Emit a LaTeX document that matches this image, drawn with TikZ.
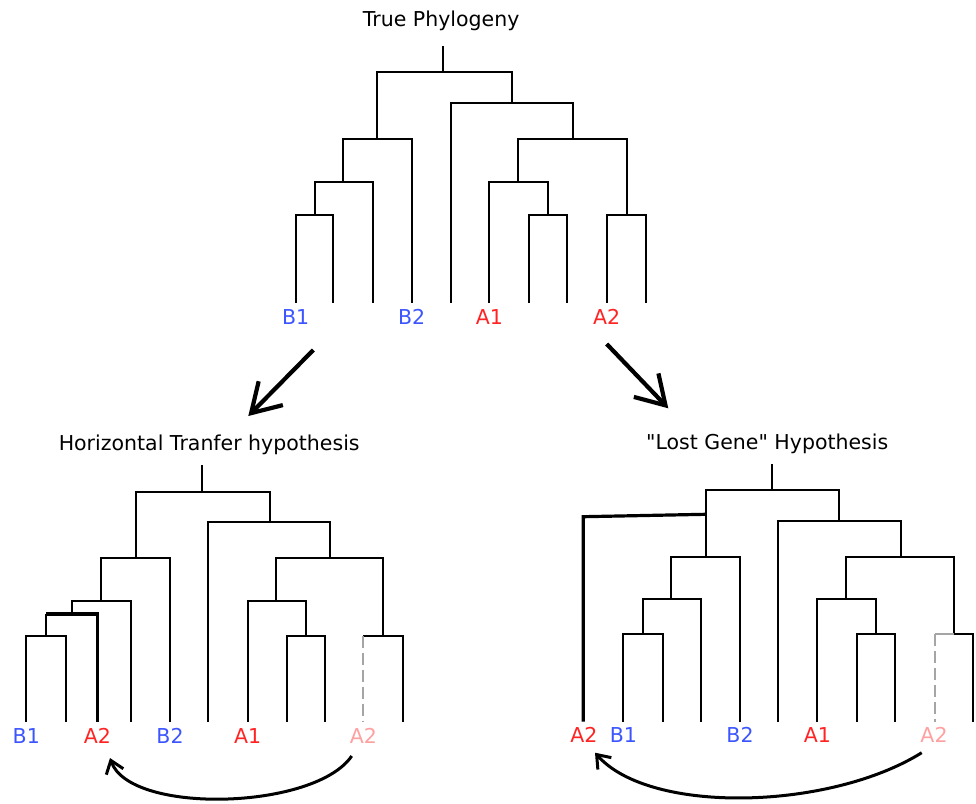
\documentclass[tikz,border=0pt]{standalone}
\usepackage{fontspec}
\setmainfont{DejaVu Sans}[Ligatures=TeXOff]
\usetikzlibrary{arrows.meta}
\definecolor{blueL}{RGB}{60,85,255}
\definecolor{redL}{RGB}{255,35,35}
\definecolor{pinkL}{RGB}{255,160,160}
\definecolor{grayL}{RGB}{165,165,165}
\begin{document}
\begin{tikzpicture}[x=1pt,y=-1pt,
 br/.style={line width=2pt},
 hgt/.style={line width=3.2pt},
 lostbr/.style={line width=2pt, grayL, dash pattern=on 12pt off 5pt},
 lab/.style={anchor=base, inner sep=0pt, font=\fontsize{20.5pt}{24pt}\selectfont},
 ttl/.style={anchor=base, inner sep=0pt, font=\fontsize{20.5pt}{24pt}\selectfont},
 bigarrow/.style={line width=4.2pt, -{Straight Barb[length=28pt,width=34pt]}},
 curvearrow/.style={line width=3pt, -{Straight Barb[length=12pt,width=18pt]}}
]
\useasboundingbox (0,0) rectangle (976,803);

% ---------- titles ----------
\node[ttl] (ttrue) at (441.2,27) {True Phylogeny};
\node[ttl] (thgt) at (209.2,450) {Horizontal Tranfer hypothesis};
\node[ttl] (tlost) at (767.2,449) {\symbol{34}Lost Gene\symbol{34} Hypothesis};

% ---------- top tree ----------
\coordinate (Ttop) at (443.3,46);
\coordinate (Tr) at (443.3,72.3);
\coordinate (Tn1) at (377.3,138.7);
\coordinate (Tn2) at (511.7,102.7);
\coordinate (Tn3) at (342.7,181.7);
\coordinate (Tn5) at (315.3,215);
\coordinate (Tn6) at (572.7,138.7);
\coordinate (Tn7) at (517.7,181.7);
\coordinate (Tn8) at (626.7,215);
\coordinate (Tn9) at (548.3,215);
\foreach \n/\x in {1/295.7,2/333.3,3/372.7,4/411.7,5/450.7,6/489.3,7/528.7,8/567.3,9/606.7,10/646}
  \coordinate (Tl\n) at (\x,303);
\draw[br] (Ttop) -- (Tr);
\foreach \p/\c in {Tr/Tn1,Tr/Tn2,Tn1/Tn3,Tn1/Tl4,Tn3/Tn5,Tn3/Tl3,Tn5/Tl1,Tn5/Tl2,
  Tn2/Tl5,Tn2/Tn6,Tn6/Tn7,Tn6/Tn8,Tn7/Tl6,Tn7/Tn9,Tn9/Tl7,Tn9/Tl8,Tn8/Tl9,Tn8/Tl10}
  \draw[br] (\p) -| (\c);
\node[lab, text=blueL] (TB1) at (295.7,324) {B1};
\node[lab, text=blueL] (TB2) at (411.7,324) {B2};
\node[lab, text=redL] (TA1) at (489.3,324) {A1};
\node[lab, text=redL] (TA2) at (606.7,324) {A2};

% ---------- big arrows ----------
\coordinate (aLs) at (313.3,350);
\coordinate (aLe) at (248.3,416);
\coordinate (aRs) at (606.7,344);
\coordinate (aRe) at (668.3,408.3);
\draw[bigarrow] (aLs) -- (aLe);
\draw[bigarrow] (aRs) -- (aRe);

% ---------- left tree (horizontal transfer) ----------
\coordinate (Ltop) at (201.7,465);
\coordinate (Lr) at (201.7,491.7);
\coordinate (La1) at (135.7,557.7);
\coordinate (La2) at (270,522);
\coordinate (La3) at (100.7,600.7);
\coordinate (La4) at (72,614);
\coordinate (La5) at (46,635.7);
\coordinate (La6) at (330,557.7);
\coordinate (La7) at (276,600.7);
\coordinate (La8) at (383.3,635.7);
\coordinate (La9) at (306,635.7);
\foreach \n/\x in {1/26.3,2/65.7,3/97.3,4/130.7,5/170,6/208.3,7/247.7,8/286.7,9/325,10/363.3,11/402.7}
  \coordinate (Ll\n) at (\x,721.7);
\draw[br] (Ltop) -- (Lr);
\foreach \p/\c in {Lr/La1,Lr/La2,La1/La3,La1/Ll5,La3/La4,La3/Ll4,La5/Ll1,La5/Ll2,
  La2/Ll6,La2/La6,La6/La7,La6/La8,La7/Ll7,La7/La9,La9/Ll8,La9/Ll9,La8/Ll11}
  \draw[br] (\p) -| (\c);
\draw[hgt, line cap=square] (La4 -| La5) -| (Ll3);
\draw[br] (La4 -| La5) -- (La5);
\draw[br] (La8) -- (La8 -| Ll10);
\draw[lostbr] (La8 -| Ll10) -- (Ll10);
\node[lab, text=blueL] (LB1) at (26.3,743.3) {B1};
\node[lab, text=redL] (LA2) at (97.3,743.3) {A2};
\node[lab, text=blueL] (LB2) at (170,743.3) {B2};
\node[lab, text=redL] (LA1) at (247.7,743.3) {A1};
\node[lab, text=pinkL] (LA2x) at (363.3,743.3) {A2};
\coordinate (cLs) at (351.7,756);
\coordinate (cLe) at (110,758);
\draw[curvearrow] (cLs) .. controls (315,810) and (130,815) .. (cLe);

% ---------- right tree (lost gene) ----------
\coordinate (Rtop) at (772,464);
\coordinate (Rr) at (772,490);
\coordinate (Rb1) at (705.7,556.7);
\coordinate (Rb2) at (839.3,521);
\coordinate (Rb3) at (670.7,599.3);
\coordinate (Rb4) at (643.3,634);
\coordinate (Rb5) at (900.7,556.7);
\coordinate (Rb6) at (846,599.3);
\coordinate (Rb7) at (954,634);
\coordinate (Rb8) at (875.7,634);
\coordinate (Rk1) at (705.7,514.3);
\coordinate (Rk2) at (583.3,516.7);
\coordinate (Rl0) at (583.3,721.7);
\foreach \n/\x in {1/623.3,2/662.7,3/700.7,4/740,5/778.3,6/817.3,7/856.7,8/895,9/935,10/973.3}
  \coordinate (Rl\n) at (\x,721.7);
\draw[br] (Rtop) -- (Rr);
\foreach \p/\c in {Rr/Rb1,Rr/Rb2,Rb1/Rb3,Rb1/Rl4,Rb3/Rb4,Rb3/Rl3,Rb4/Rl1,Rb4/Rl2,
  Rb2/Rl5,Rb2/Rb5,Rb5/Rb6,Rb5/Rb7,Rb6/Rl6,Rb6/Rb8,Rb8/Rl7,Rb8/Rl8}
  \draw[br] (\p) -| (\c);
\draw[br] (Rb7) -| (Rl10);
\draw[br, grayL] (Rb7) -- (Rb7 -| Rl9);
\draw[lostbr] (Rb7 -| Rl9) -- (Rl9);
\draw[hgt] (Rk1) -- (Rk2) -- (Rl0);
\node[lab, text=redL] (RA2) at (584,742.7) {A2};
\node[lab, text=blueL] (RB1) at (623.3,742.7) {B1};
\node[lab, text=blueL] (RB2) at (740,742.7) {B2};
\node[lab, text=redL] (RA1) at (817.3,742.7) {A1};
\node[lab, text=pinkL] (RA2x) at (934,742.7) {A2};
\coordinate (cRs) at (921.7,752.7);
\coordinate (cRe) at (595,752.7);
\draw[curvearrow] (cRs) .. controls (830,810) and (650,815) .. (cRe);
\end{tikzpicture}
\end{document}
